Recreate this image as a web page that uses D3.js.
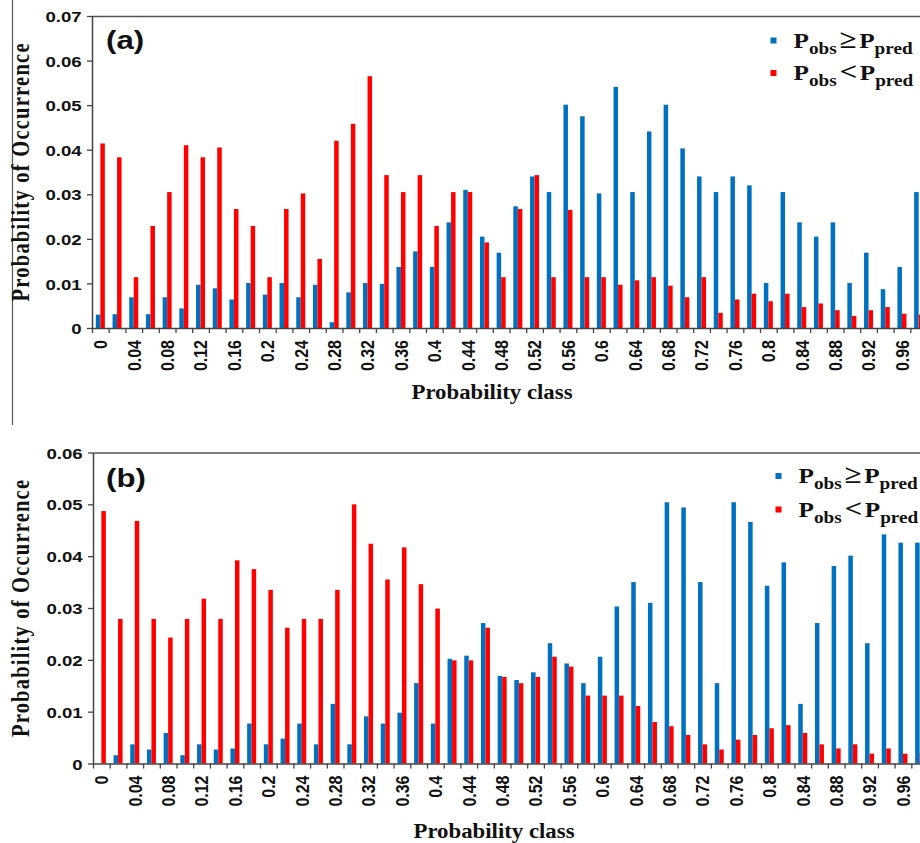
<!DOCTYPE html>
<html>
<head>
<meta charset="utf-8">
<script src="https://cdn.jsdelivr.net/npm/d3@7"></script>
<style>
  html, body { margin: 0; padding: 0; background: #fff; }
  svg { display: block; }
</style>
</head>
<body>
<svg id="chart" width="920" height="843"></svg>
<script>
// Probability classes (category axis)
const categories = ["0","0.02","0.04","0.06","0.08","0.1","0.12","0.14","0.16","0.18",
  "0.2","0.22","0.24","0.26","0.28","0.3","0.32","0.34","0.36","0.38",
  "0.4","0.42","0.44","0.46","0.48","0.5","0.52","0.54","0.56","0.58",
  "0.6","0.62","0.64","0.66","0.68","0.7","0.72","0.74","0.76","0.78",
  "0.8","0.82","0.84","0.86","0.88","0.9","0.92","0.94","0.96","0.98"];
const tickLabels = ["0","0.04","0.08","0.12","0.16","0.2","0.24","0.28","0.32","0.36",
  "0.4","0.44","0.48","0.52","0.56","0.6","0.64","0.68","0.72","0.76",
  "0.8","0.84","0.88","0.92","0.96"];
const seriesKeys = ["ge", "lt"];

// Panel (a)
const geA = [0.0030,0.0031,0.0069,0.0031,0.0069,0.0044,0.0097,0.0089,0.0064,0.0101,
  0.0075,0.0101,0.0069,0.0097,0.0013,0.0080,0.0101,0.0099,0.0137,0.0172,
  0.0137,0.0237,0.0310,0.0205,0.0169,0.0273,0.0340,0.0305,0.0501,0.0475,
  0.0302,0.0541,0.0305,0.0441,0.0501,0.0403,0.0340,0.0305,0.0340,0.0320,
  0.0101,0.0305,0.0237,0.0205,0.0237,0.0101,0.0169,0.0087,0.0137,0.0305];
const ltA = [0.0414,0.0383,0.0114,0.0229,0.0305,0.0410,0.0383,0.0405,0.0267,0.0229,
  0.0114,0.0267,0.0302,0.0155,0.0420,0.0458,0.0565,0.0343,0.0305,0.0343,
  0.0229,0.0305,0.0305,0.0192,0.0114,0.0267,0.0343,0.0114,0.0265,0.0114,
  0.0114,0.0097,0.0107,0.0114,0.0095,0.0069,0.0114,0.0034,0.0064,0.0077,
  0.0060,0.0077,0.0047,0.0055,0.0040,0.0027,0.0040,0.0047,0.0032,0.0030];
const yTicksA = [0,0.01,0.02,0.03,0.04,0.05,0.06,0.07];

// Panel (b)
const geB = [0,0.0016,0.0037,0.0027,0.0059,0.0016,0.0037,0.0027,0.0029,0.0077,
  0.0037,0.0048,0.0077,0.0037,0.0115,0.0037,0.0091,0.0077,0.0098,0.0155,
  0.0077,0.0202,0.0208,0.0271,0.0169,0.0161,0.0176,0.0232,0.0193,0.0155,
  0.0206,0.0303,0.0350,0.0310,0.0504,0.0494,0.0350,0.0155,0.0504,0.0466,
  0.0343,0.0388,0.0115,0.0271,0.0381,0.0401,0.0232,0.0442,0.0426,0.0426];
const ltB = [0.0487,0.0279,0.0468,0.0279,0.0243,0.0279,0.0318,0.0279,0.0392,0.0375,
  0.0335,0.0262,0.0279,0.0279,0.0335,0.0500,0.0424,0.0355,0.0417,0.0346,
  0.0299,0.0199,0.0199,0.0262,0.0167,0.0155,0.0167,0.0206,0.0187,0.0131,
  0.0131,0.0131,0.0111,0.0080,0.0072,0.0055,0.0037,0.0027,0.0046,0.0055,
  0.0068,0.0074,0.0059,0.0037,0.0029,0.0037,0.0019,0.0029,0.0019,0.0019];
const yTicksB = [0,0.01,0.02,0.03,0.04,0.05,0.06];

const colors = { ge: "#0070C0", lt: "#FF0000" };
const SX = 1.2; // horizontal stretch of all lettering
const sans = "'Liberation Sans', Arial, sans-serif";
const serif = "'Liberation Serif', 'Times New Roman', serif";

const svg = d3.select("#chart");

// frame line on the left side of the upper panel
svg.append("line").attr("x1", 12.5).attr("x2", 12.5).attr("y1", 0).attr("y2", 425)
  .attr("stroke", "#555").attr("stroke-width", 1.2);

function drawPanel(cfg) {
  const g = svg.append("g");
  const step = 16.7;
  const x0 = cfg.left, x1 = cfg.left + step * categories.length;

  const x = d3.scaleBand().domain(categories).range([x0, x1])
    .paddingInner(0.46).paddingOuter(0.23);
  const xs = d3.scaleBand().domain(seriesKeys).range([0, x.bandwidth()]);
  const edge = d3.scaleLinear().domain([0, categories.length]).range([x0, x1]);
  const y = d3.scaleLinear().domain([0, cfg.yMax]).range([cfg.bottom, cfg.top]);

  const rows = categories.map((c, i) => ({ c, ge: cfg.ge[i], lt: cfg.lt[i] }));

  // bars
  g.append("g").selectAll("g").data(rows).join("g")
    .attr("transform", d => `translate(${x(d.c)},0)`)
    .selectAll("rect")
    .data(d => seriesKeys.map(k => ({ k, v: d[k] })))
    .join("rect")
    .attr("x", d => xs(d.k))
    .attr("width", xs.bandwidth())
    .attr("y", d => y(d.v))
    .attr("height", d => y(0) - y(d.v))
    .attr("fill", d => colors[d.k]);

  // top frame line
  g.append("line").attr("x1", x0).attr("x2", x1).attr("y1", cfg.top + 0.5).attr("y2", cfg.top + 0.5)
    .attr("stroke", "#555").attr("stroke-width", 1.3);

  // y axis
  const ya = g.append("g").attr("transform", `translate(${x0},0)`)
    .call(d3.axisLeft(y).tickValues(cfg.yTicks).tickSize(5).tickSizeOuter(0)
      .tickFormat(d => d === 0 ? "0" : d3.format(".2f")(d)));
  ya.select(".domain").attr("stroke", "#444").attr("stroke-width", 1.5);
  ya.selectAll(".tick line").attr("stroke", "#444").attr("stroke-width", 1.3);
  ya.selectAll(".tick text")
    .attr("x", -10.3 / SX).attr("dy", "0.36em")
    .attr("transform", `scale(${SX},1)`)
    .attr("font-family", sans).attr("font-weight", "bold").attr("font-size", 15.5)
    .attr("fill", "#111");

  // x axis: tick marks on category boundaries
  const xa = g.append("g").attr("transform", `translate(0,${cfg.bottom})`)
    .call(d3.axisBottom(edge).tickValues(d3.range(0, categories.length + 1))
      .tickSize(5).tickSizeOuter(0).tickFormat(""));
  xa.select(".domain").attr("stroke", "#444").attr("stroke-width", 1.5);
  xa.selectAll(".tick line").attr("stroke", "#444").attr("stroke-width", 1.3);

  // x axis: rotated class labels under every other category
  const xl = g.append("g").attr("transform", `translate(0,${cfg.bottom})`)
    .call(d3.axisBottom(x).tickValues(tickLabels).tickSize(0));
  xl.select(".domain").remove();
  xl.selectAll(".tick text")
    .attr("x", -12).attr("y", 0).attr("dy", "0.36em")
    .attr("text-anchor", "end")
    .attr("transform", `scale(${SX},1) rotate(-90)`)
    .attr("font-family", sans).attr("font-weight", "bold").attr("font-size", 16)
    .attr("fill", "#111");

  // axis titles
  g.append("text")
    .attr("transform", `translate(${cfg.yTitleX},${cfg.yTitleY}) scale(${SX},1) rotate(-90)`)
    .attr("text-anchor", "middle")
    .attr("font-family", serif).attr("font-weight", "bold").attr("font-size", 20.5)
    .attr("textLength", cfg.yTitleLen).attr("lengthAdjust", "spacing")
    .attr("fill", "#111")
    .text("Probability of Occurrence");

  g.append("text")
    .attr("x", cfg.xTitleX - 80.5).attr("y", cfg.xTitleY)
    .attr("font-family", serif).attr("font-weight", "bold").attr("font-size", 20)
    .attr("textLength", 161).attr("lengthAdjust", "spacingAndGlyphs")
    .attr("fill", "#111")
    .text("Probability class");

  // panel tag
  g.append("text")
    .attr("transform", `translate(${cfg.tagX},${cfg.tagY}) scale(${SX},1)`)
    .attr("font-family", sans).attr("font-weight", "bold").attr("font-size", 26)
    .attr("fill", "#111")
    .text(cfg.tag);

  // legend
  const legendItems = [
    { k: "ge", rel: "\u2265" },
    { k: "lt", rel: "<" }
  ];
  legendItems.forEach((it, i) => {
    const by = cfg.legY[i];
    g.append("rect")
      .attr("x", cfg.legX).attr("y", by - 10).attr("width", 6).attr("height", 6)
      .attr("fill", colors[it.k]);
    const t = g.append("text")
      .attr("transform", `translate(${cfg.legX + 23},${by}) scale(${SX},1)`)
      .attr("font-family", serif).attr("font-weight", "bold").attr("font-size", 21)
      .attr("fill", "#111");
    t.append("tspan").text("P");
    t.append("tspan").attr("font-size", 16).attr("dy", 6).text("obs");
    t.append("tspan").attr("font-size", 26).attr("dy", -6).attr("dx", 2.5).text(it.rel);
    t.append("tspan").attr("dx", 2).text("P");
    t.append("tspan").attr("font-size", 16).attr("dy", 6).text("pred");
  });
}

drawPanel({
  ge: geA, lt: ltA, yTicks: yTicksA, yMax: 0.07,
  left: 92, top: 16, bottom: 328,
  yTitleX: 29, yTitleY: 172.5, yTitleLen: 258,
  xTitleX: 492, xTitleY: 399,
  tag: "(a)", tagX: 106, tagY: 49,
  legX: 770.5, legY: [47.5, 80]
});

drawPanel({
  ge: geB, lt: ltB, yTicks: yTicksB, yMax: 0.06,
  left: 93, top: 452.5, bottom: 763.5,
  yTitleX: 29, yTitleY: 608.5, yTitleLen: 257,
  xTitleX: 494, xTitleY: 837.5,
  tag: "(b)", tagX: 106, tagY: 487,
  legX: 775.5, legY: [483, 516.5]
});
</script>
</body>
</html>
